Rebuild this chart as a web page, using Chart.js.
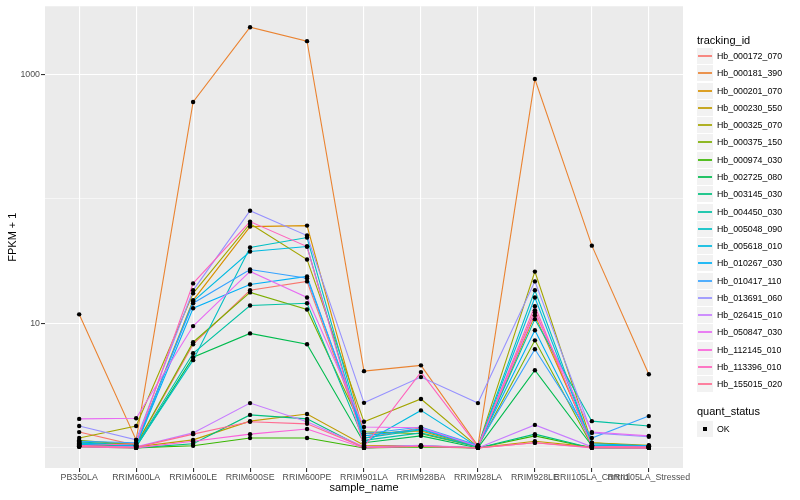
<!DOCTYPE html>
<html>
<head>
<meta charset="utf-8">
<script src="https://cdn.jsdelivr.net/npm/chart.js@4.4.1/dist/chart.umd.min.js"></script>
<style>
  html, body { margin: 0; padding: 0; background: #fff; }
  #wrap { position: relative; width: 800px; height: 500px; font-family: "Liberation Sans", Arial, sans-serif; }
  #grafico { position: absolute; left: 0; top: 0; }
  .leg-titulo { position: absolute; left: 697px; font-size: 11px; line-height: 13px; color: #000; }
  .leg-item { position: absolute; left: 697px; width: 100px; height: 17px; }
  .leg-caixa { position: absolute; left: 0; top: 0; width: 16px; height: 16px; background: #F2F2F2; }
  .leg-linha { position: absolute; left: 1px; top: 7px; width: 14px; height: 2px; opacity: 0.85; }
  .leg-ponto { position: absolute; left: 6px; top: 6px; width: 4px; height: 4px; background: #000; }
  .leg-texto { position: absolute; left: 20px; top: 0; line-height: 16px; font-size: 8.8px; color: #000; white-space: nowrap; }
</style>
</head>
<body>
<div id="wrap">
  <canvas id="grafico" width="800" height="500"></canvas>
  <div id="legenda"></div>
</div>
<script>
const amostras = ['PB350LA', 'RRIM600LA', 'RRIM600LE', 'RRIM600SE', 'RRIM600PE', 'RRIM901LA',
  'RRIM928BA', 'RRIM928LA', 'RRIM928LE', 'RRII105LA_Control', 'RRII105LA_Stressed'];

const genes = ['Hb_000172_070', 'Hb_000181_390', 'Hb_000201_070', 'Hb_000230_550', 'Hb_000325_070',
  'Hb_000375_150', 'Hb_000974_030', 'Hb_002725_080', 'Hb_003145_030', 'Hb_004450_030',
  'Hb_005048_090', 'Hb_005618_010', 'Hb_010267_030', 'Hb_010417_110', 'Hb_013691_060',
  'Hb_026415_010', 'Hb_050847_030', 'Hb_112145_010', 'Hb_113396_010', 'Hb_155015_020'];

const cores = ['#F8766D', '#EA8331', '#D89000', '#C09B00', '#A3A500', '#7CAE00', '#39B600', '#00BB4E',
  '#00BF7D', '#00C1A3', '#00BFC4', '#00BAE0', '#00B0F6', '#35A2FF', '#9590FF', '#C77CFF',
  '#E76BF3', '#FA62DB', '#FF62BC', '#FF6C91'];

// FPKM + 1, uma lista por gene, na ordem de amostras
const hb000172 = [1.34, 1.05, 6.8, 18.4, 21.7, 1.2, 1.45, 1.03, 12.7, 1.05, 1.02];
const hb000181 = [11.8, 1.16, 597, 2377, 1837, 4.13, 4.6, 1.04, 912, 42, 3.9];
const hb000201 = [1.1, 1.08, 15.3, 59.7, 60.8, 1.3, 1.37, 1.02, 11.6, 1.1, 1.03];
const hb000230 = [1.05, 1.02, 1.16, 1.64, 1.87, 1.05, 1.04, 1.0, 1.13, 1.02, 1.0];
const hb000325 = [1.2, 1.5, 17.4, 63, 32.5, 1.62, 2.47, 1.02, 26, 1.1, 1.05];
const hb000375 = [1.15, 1.06, 7.05, 17.7, 12.9, 1.35, 1.3, 1.02, 7.3, 1.04, 1.02];
const hb000974 = [1.02, 1.0, 1.04, 1.2, 1.2, 1.0, 1.02, 1.0, 1.25, 1.0, 1.0];
const hb002725 = [1.08, 1.02, 5.35, 8.3, 6.8, 1.1, 1.25, 1.0, 4.2, 1.04, 1.02];
const hb003145 = [1.06, 1.0, 1.08, 1.84, 1.71, 1.0, 1.04, 1.0, 1.29, 1.0, 1.0];
const hb004450 = [1.12, 1.04, 5.75, 13.9, 14.5, 1.15, 1.32, 1.02, 10.8, 1.64, 1.5];
const hb005048 = [1.1, 1.03, 5.06, 40.6, 48.8, 1.2, 1.4, 1.03, 18.4, 1.06, 1.03];
const hb005618 = [1.07, 1.05, 15.0, 37.7, 41.3, 1.1, 2.0, 1.02, 16.1, 1.05, 1.02];
const hb010267 = [1.09, 1.04, 13.2, 20.5, 23.8, 1.25, 1.42, 1.04, 8.8, 1.08, 1.04];
const hb010417 = [1.13, 1.1, 14.5, 27, 23, 1.3, 1.47, 1.05, 6.2, 1.2, 1.8];
const hb013691 = [1.5, 1.16, 18.4, 80, 50.6, 2.3, 3.7, 2.29, 21.7, 1.32, 1.23];
const hb026415 = [1.03, 1.02, 1.32, 2.29, 1.62, 1.02, 1.05, 1.0, 1.53, 1.02, 1.0];
const hb050847 = [1.71, 1.73, 9.5, 26.1, 16.1, 1.47, 1.45, 1.03, 12.2, 1.34, 1.25];
const hb112145 = [1.02, 1.0, 1.13, 1.29, 1.42, 1.0, 1.03, 1.0, 1.1, 1.0, 1.0];
const hb113396 = [1.04, 1.08, 20.9, 65.5, 41.3, 1.02, 4.06, 1.02, 13.7, 1.03, 1.02];
const hb155015 = [1.03, 1.01, 1.29, 1.62, 1.56, 1.01, 1.03, 1.0, 1.1, 1.01, 1.0];

const valores = [hb000172, hb000181, hb000201, hb000230, hb000325, hb000375, hb000974, hb002725,
  hb003145, hb004450, hb005048, hb005618, hb010267, hb010417, hb013691, hb026415,
  hb050847, hb112145, hb113396, hb155015];

const marcasY = [1, 10, 100, 1000];
const rotulosY = [10, 1000];

const fonte = '"Liberation Sans", Arial, sans-serif';

window.addEventListener('load', () => {
  const ctx = document.getElementById('grafico').getContext('2d');

  // fundo cinza do painel, estilo ggplot
  const fundoPainel = {
    id: 'fundoPainel',
    beforeDraw(chart) {
      const a = chart.chartArea;
      const c = chart.ctx;
      c.save();
      c.fillStyle = '#EBEBEB';
      c.fillRect(a.left, a.top, a.right - a.left, a.bottom - a.top);
      c.restore();
    }
  };

  const linhas = valores.map((serie, i) => ({
    type: 'line',
    label: genes[i],
    data: serie.map((v, j) => ({ x: j, y: v })),
    borderColor: cores[i],
    borderWidth: 1.1,
    pointRadius: 0,
    fill: false,
    tension: 0,
    order: 30 - i
  }));

  const pontos = {
    type: 'scatter',
    label: 'OK',
    data: valores.flatMap(serie => serie.map((v, j) => ({ x: j, y: v }))),
    pointRadius: 2.2,
    pointBackgroundColor: '#000',
    pointBorderColor: '#000',
    pointBorderWidth: 0,
    showLine: false,
    order: 0
  };

  new Chart(ctx, {
    type: 'line',
    data: { datasets: [pontos, ...linhas] },
    plugins: [fundoPainel],
    options: {
      responsive: false,
      animation: false,
      layout: { padding: { left: 0, right: 117, top: 5, bottom: 0 } },
      plugins: { legend: { display: false }, tooltip: { enabled: false } },
      scales: {
        x: {
          type: 'linear',
          min: -0.6,
          max: 10.6,
          afterBuildTicks: s => { s.ticks = amostras.map((_, i) => ({ value: i })); },
          afterFit: s => { s.height = 32; },
          ticks: {
            callback: v => amostras[v],
            autoSkip: false,
            maxRotation: 0,
            minRotation: 0,
            padding: 0,
            color: '#4D4D4D',
            font: { family: fonte, size: 8.8 }
          },
          grid: { color: '#FFFFFF', lineWidth: 1.1, tickColor: '#333333', tickLength: 4 },
          border: { display: false },
          title: {
            display: true,
            text: 'sample_name',
            color: '#000',
            font: { family: fonte, size: 11 },
            padding: { top: 0, bottom: 5 }
          }
        },
        y: {
          type: 'logarithmic',
          min: 0.69,
          max: 3500,
          afterBuildTicks: s => { s.ticks = marcasY.map(v => ({ value: v })); },
          afterFit: s => { s.width = 45; },
          ticks: {
            callback: v => rotulosY.includes(v) ? String(v) : '',
            autoSkip: false,
            padding: 1,
            color: '#4D4D4D',
            font: { family: fonte, size: 8.8 }
          },
          grid: {
            color: '#FFFFFF',
            lineWidth: c => rotulosY.includes(c.tick && c.tick.value) ? 1.1 : 0.55,
            tickColor: c => rotulosY.includes(c.tick && c.tick.value) ? '#333333' : 'rgba(0,0,0,0)',
            tickLength: 4
          },
          border: { display: false },
          title: {
            display: true,
            text: 'FPKM + 1',
            color: '#000',
            font: { family: fonte, size: 11 },
            padding: { top: 6, bottom: 0 }
          }
        }
      }
    }
  });

  // legenda ao lado, como no ggplot
  const leg = document.getElementById('legenda');
  let html = '<div class="leg-titulo" style="top:34px">tracking_id</div>';
  genes.forEach((g, i) => {
    const topo = Math.round(48 + i * 17.28);
    html += `<div class="leg-item" style="top:${topo}px">
      <div class="leg-caixa"></div>
      <div class="leg-linha" style="background-color:${cores[i]}"></div>
      <div class="leg-texto">${g}</div>
    </div>`;
  });
  html += '<div class="leg-titulo" style="top:405px">quant_status</div>';
  html += `<div class="leg-item" style="top:421px">
      <div class="leg-caixa"></div>
      <div class="leg-ponto"></div>
      <div class="leg-texto">OK</div>
    </div>`;
  leg.innerHTML = html;
});
</script>
</body>
</html>
